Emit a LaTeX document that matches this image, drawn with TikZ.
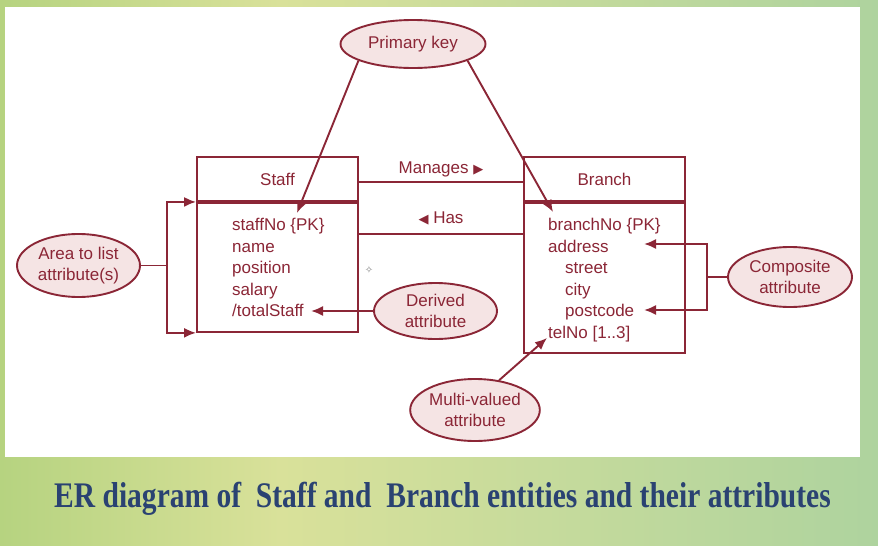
\documentclass[tikz,border=0pt]{standalone}
\usepackage{fontspec}
\usepackage{graphicx}
\setsansfont{Liberation Sans}
\newfontfamily\titlefont{Liberation Serif}
\newfontfamily\symfont{DejaVu Sans}
\usetikzlibrary{arrows.meta,shapes.geometric,positioning}
\definecolor{erred}{HTML}{8B2636}
\definecolor{notefill}{HTML}{F5E4E4}
\definecolor{titleblue}{HTML}{2A4272}
\definecolor{bgL}{HTML}{B6D380}
\definecolor{bgM}{HTML}{D9E19A}
\definecolor{bgR}{HTML}{AED39E}
\pgfdeclarehorizontalshading{bgband}{100bp}{color(0bp)=(bgL); color(25bp)=(bgL); color(41bp)=(bgM); color(58bp)=(bgR!50!bgM); color(75bp)=(bgR); color(100bp)=(bgR)}
\newcommand{\erfont}{\sffamily\fontsize{17}{21.5}\selectfont}

\begin{document}
\begin{tikzpicture}[x=1pt,y=-1pt]
	\tikzset{link/.style={draw=erred,line width=1.9pt},
		arr/.style={link,-{Latex[length=12pt,width=10pt]}},
		note/.style={ellipse,draw=erred,line width=1.9pt,fill=notefill,text=erred,inner sep=0pt,align=center,minimum width=123pt,font=\erfont},
		head/.style={draw=erred,line width=1.9pt,minimum width=161pt,minimum height=44pt,text=erred,font=\erfont},
		body/.style={draw=erred,line width=1.9pt,minimum width=161pt,anchor=north},
		attr/.style={anchor=base west,inner sep=1pt,text=erred,font=\erfont},
		lbl/.style={inner sep=1pt,text=erred,font=\erfont}}
	\shade[shading=bgband] (0,0) rectangle (878,546);
	\fill[white] (5,7) rectangle (860,457);
	\useasboundingbox (0,0) rectangle (878,546);

	\node [head] (staffH) at (277.5,179) {Staff};
	\node [body,minimum height=129pt] (staffB) at (staffH.south) {};
	\node [head] (branchH) at (604.5,179) {Branch};
	\node [body,minimum height=150pt] (branchB) at (branchH.south) {};

	\node [attr] (staffNo) at (231,230.5) {staffNo \{PK\}};
	\node [attr] (sName) at (231,252) {name};
	\node [attr] (sPos) at (231,273.5) {position};
	\node [attr] (sSal) at (231,295) {salary};
	\node [attr] (sTotal) at (231,316.5) {/totalStaff};
	\node [attr] (branchNo) at (547,230.5) {branchNo \{PK\}};
	\node [attr] (bAddr) at (547,252) {address};
	\node [attr] (bStreet) at (564,273.5) {street};
	\node [attr] (bCity) at (564,295) {city};
	\node [attr] (bPost) at (564,316.5) {postcode};
	\node [attr] (bTel) at (547,338) {telNo [1..3]};

	\node [note,minimum width=145pt,minimum height=48pt] (pk) at (413,44) {Primary key};
	\node [note,minimum height=63pt] (area) at (78.5,265.5) {Area to list\\attribute(s)};
	\node [note,minimum height=56pt] (derived) at (435.5,311) {Derived\\attribute};
	\node [note,minimum width=124pt,minimum height=60pt] (comp) at (790,277) {Composite\\attribute};
	\node [note,minimum height=62pt] (multi) at (475,410) {Multi-valued\\attribute};
	\node [text=gray,font=\symfont\fontsize{10}{10}\selectfont] (cursor) at (369,270) {✧};

	\path[link] ([yshift=-3pt]staffH.east) edge node[lbl,above=3pt] {Manages {\symfont\fontsize{13}{13}\selectfont▶}} ([yshift=-3pt]branchH.east -| branchB.west)
		([yshift=-32pt]staffB.north east) edge node[lbl,above=7pt] {{\symfont\fontsize{13}{13}\selectfont◀} Has} ([yshift=-32pt]branchB.north west);

	\coordinate (sTip) at (297,213);
	\coordinate (bTip) at (553,212);
	\draw[arr] (pk.197) -- (sTip);
	\draw[arr] (pk.343) -- (bTip);

	\coordinate (areaFork) at (167,265.5);
	\draw[link] (area.east) -- (areaFork);
	\draw[arr] (areaFork) |- (staffB.north west);
	\draw[arr] (areaFork) |- (staffB.south west);

	\coordinate (dTip) at (311,311);
	\draw[arr] (derived.west) -- (dTip);

	\coordinate (compFork) at (707,277);
	\coordinate (addrTip) at (644,244);
	\coordinate (postTip) at (644,310);
	\draw[link] (comp.west) -- (compFork);
	\draw[arr] (compFork) |- (addrTip);
	\draw[arr] (compFork) |- (postTip);

	\draw[arr] (multi.51) -- (bTel.base west);

	\node [anchor=base,text=titleblue,font=\titlefont\bfseries\fontsize{36}{40}\selectfont] (title) at (442.5,507) {\scalebox{0.82}[1]{ER diagram of~ Staff and~ Branch entities and their attributes}};
\end{tikzpicture}
\end{document}
